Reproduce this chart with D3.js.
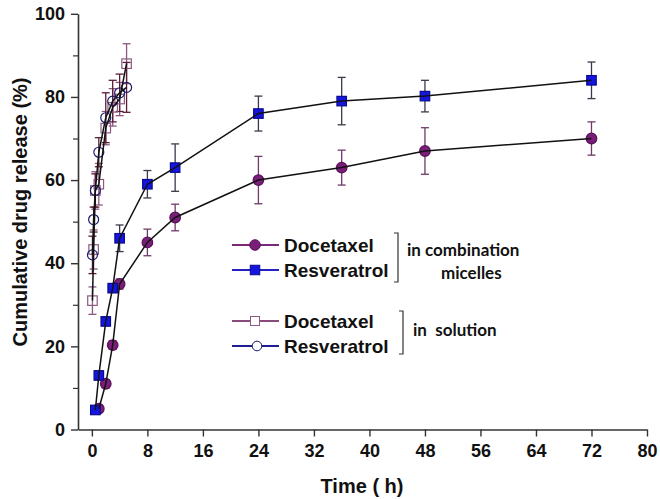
<!DOCTYPE html>
<html><head><meta charset="utf-8">
<script src="https://cdn.jsdelivr.net/npm/d3@7"></script>
<style>
html,body{margin:0;padding:0;background:#fff;}
svg{display:block;}
text{font-family:"Liberation Sans",Arial,sans-serif;font-weight:bold;fill:#111;}
</style></head>
<body><svg id="c" width="660" height="499"></svg>
<script>
// ---- data ----
const xTicks = [0, 8, 16, 24, 32, 40, 48, 56, 64, 72, 80];
const yTicks = [0, 20, 40, 60, 80, 100];
const yMinorTicks = [10, 30, 50, 70, 90];

const micDocTime = [1, 2, 3, 4, 8, 12, 24, 36, 48, 72];
const micDocVal  = [5, 11, 20.3, 35, 45, 51, 60, 63, 67, 70];
const micDocErr  = [0.8, 1, 1, 1.2, 3.2, 3.2, 5.7, 4.2, 5.6, 4];

const micResTime = [0.5, 1, 2, 3, 4, 8, 12, 24, 36, 48, 72];
const micResVal  = [4.7, 13, 26, 34, 46, 59, 63, 76, 79, 80.2, 84];
const micResErr  = [0.8, 1, 1, 1, 3.2, 3.3, 5.7, 4.2, 5.7, 3.8, 4.4];

const solDocTime = [0.083, 0.25, 0.5, 1, 2, 3, 4, 5];
const solDocVal  = [31, 43.3, 57.5, 59, 72.5, 77.5, 79.5, 88];
const solDocErr  = [3.3, 4.7, 4.5, 5, 4, 4.5, 4, 4.8];

const solResTime = [0.083, 0.25, 0.5, 1, 2, 3, 4, 5];
const solResVal  = [42, 50.5, 57.5, 66.7, 75, 79, 81, 82.3];
const solResErr  = [4.5, 3, 4, 3.5, 6, 5, 4.5, 6];

const legendNames = ["Docetaxel", "Resveratrol", "Docetaxel", "Resveratrol"];

// ---- chart ----
const svg = d3.select("#c");
const x = d3.scaleLinear().domain([-2, 80]).range([78, 647]);
const y = d3.scaleLinear().domain([0, 100]).range([429.5, 13.8]);

const axisColor = "#333";
// x axis
const gx = svg.append("g").attr("transform", `translate(0,${y(0)})`)
  .call(d3.axisBottom(x).tickValues(xTicks).tickSize(7).tickPadding(8).tickSizeOuter(0));
gx.select(".domain").attr("stroke", axisColor).attr("stroke-width", 1.6);
gx.selectAll(".tick line").attr("stroke", axisColor).attr("stroke-width", 1.4);
gx.selectAll(".tick text").style("font-size", "18px").attr("fill", "#111");

// y axis
const gy = svg.append("g").attr("transform", `translate(${x(-2)},0)`)
  .call(d3.axisLeft(y).tickValues(yTicks).tickSize(7).tickPadding(6).tickSizeOuter(0));
gy.select(".domain").attr("stroke", axisColor).attr("stroke-width", 1.6);
gy.selectAll(".tick line").attr("stroke", axisColor).attr("stroke-width", 1.4);
gy.selectAll(".tick text").style("font-size", "18px").attr("fill", "#111");
const gym = svg.append("g").attr("transform", `translate(${x(-2)},0)`)
  .call(d3.axisLeft(y).tickValues(yMinorTicks).tickSize(5).tickFormat(""));
gym.select(".domain").remove();
gym.selectAll(".tick line").attr("stroke", axisColor).attr("stroke-width", 1.2);

// titles
svg.append("text").attr("x", 362).attr("y", 493).attr("text-anchor", "middle")
  .style("font-size", "20px").style("white-space", "pre").text("Time ( h)");
svg.append("text").attr("transform", "translate(27,212) rotate(-90)").attr("text-anchor", "middle")
  .style("font-size", "20px").text("Cumulative drug release (%)");

function makeSeries(times, vals, errs) { return times.map((t, i) => ({t, v: vals[i], e: errs[i]})); }
const sMicDoc = makeSeries(micDocTime, micDocVal, micDocErr);
const sMicRes = makeSeries(micResTime, micResVal, micResErr);
const sSolDoc = makeSeries(solDocTime, solDocVal, solDocErr);
const sSolRes = makeSeries(solResTime, solResVal, solResErr);

function errBars(data, color) {
  const g = svg.append("g").attr("stroke", color).attr("stroke-width", 1.3).attr("fill", "none");
  data.forEach(d => {
    const cx = x(d.t), y1 = y(d.v + d.e), y2 = y(d.v - d.e);
    g.append("line").attr("x1", cx).attr("x2", cx).attr("y1", y1).attr("y2", y2);
    g.append("line").attr("x1", cx - 4).attr("x2", cx + 4).attr("y1", y1).attr("y2", y1);
    g.append("line").attr("x1", cx - 4).attr("x2", cx + 4).attr("y1", y2).attr("y2", y2);
  });
}
const line = d3.line().x(d => x(d.t)).y(d => y(d.v));
function drawLine(data) {
  svg.append("path").datum(data).attr("d", line).attr("fill", "none")
    .attr("stroke", "#111").attr("stroke-width", 1.5);
}
function circles(data, fill, stroke, r) {
  svg.append("g").selectAll("circle").data(data).join("circle")
    .attr("cx", d => x(d.t)).attr("cy", d => y(d.v)).attr("r", r)
    .attr("fill", fill).attr("stroke", stroke).attr("stroke-width", 1.2);
}
function squares(data, fill, stroke, s) {
  svg.append("g").selectAll("rect").data(data).join("rect")
    .attr("x", d => x(d.t) - s / 2).attr("y", d => y(d.v) - s / 2)
    .attr("width", s).attr("height", s)
    .attr("fill", fill).attr("stroke", stroke).attr("stroke-width", 1.2);
}

const cPurple = "#7a1f78", cBlue = "#1515e0", cMauve = "#8c5a80", cNavy = "#1c1c70";

errBars(sMicDoc, "#6e3a68");
errBars(sMicRes, "#3a3a4a");
errBars(sSolDoc, "#8a5a80");
errBars(sSolRes, "#5c1e34");

circles(sMicDoc, cPurple, "#5a105a", 5.3);
squares(sMicRes, cBlue, "#0a0a90", 9.5);
squares(sSolDoc, "none", cMauve, 9.5);
circles(sSolRes, "none", cNavy, 5);

drawLine(sMicDoc);
drawLine(sMicRes);
drawLine(sSolDoc);
drawLine(sSolRes);

// ---- legend ----
const legY = [245, 270, 321, 346];
const legLine = ["#7a2a78", "#2222c0", "#8a4a7c", "#1e1e90"];
const lg = svg.append("g");
legY.forEach((ly, i) => {
  lg.append("line").attr("x1", 232).attr("x2", 279).attr("y1", ly).attr("y2", ly)
    .attr("stroke", legLine[i]).attr("stroke-width", 2);
  lg.append("text").attr("x", 284).attr("y", ly + 7).style("font-size", "19px").text(legendNames[i]);
});
lg.append("circle").attr("cx", 255).attr("cy", legY[0]).attr("r", 5.3).attr("fill", cPurple).attr("stroke", "#5a105a");
lg.append("rect").attr("x", 255 - 4.75).attr("y", legY[1] - 4.75).attr("width", 9.5).attr("height", 9.5).attr("fill", cBlue).attr("stroke", "#0a0a90");
lg.append("rect").attr("x", 255 - 4.5).attr("y", legY[2] - 4.5).attr("width", 9).attr("height", 9).attr("fill", "#fff").attr("stroke", cMauve);
lg.append("circle").attr("cx", 257).attr("cy", legY[3]).attr("r", 4.8).attr("fill", "#fff").attr("stroke", cNavy);

// brackets
function bracket(bx, y1, y2) {
  lg.append("path").attr("d", `M${bx - 4},${y1} H${bx} V${y2} H${bx - 4}`)
    .attr("fill", "none").attr("stroke", "#333").attr("stroke-width", 1.2);
}
bracket(398, 233, 282);
bracket(403, 311, 354);
const noteStyle = t => t.style("font-family", "Lato, 'Open Sans', sans-serif").style("font-size", "17px")
  .style("font-weight", "bold").style("white-space", "pre");
noteStyle(lg.append("text").attr("x", 407).attr("y", 256).text("in combination"));
noteStyle(lg.append("text").attr("x", 441).attr("y", 279).text("micelles"));
noteStyle(lg.append("text").attr("x", 413).attr("y", 336).text("in  solution"));
</script></body></html>
